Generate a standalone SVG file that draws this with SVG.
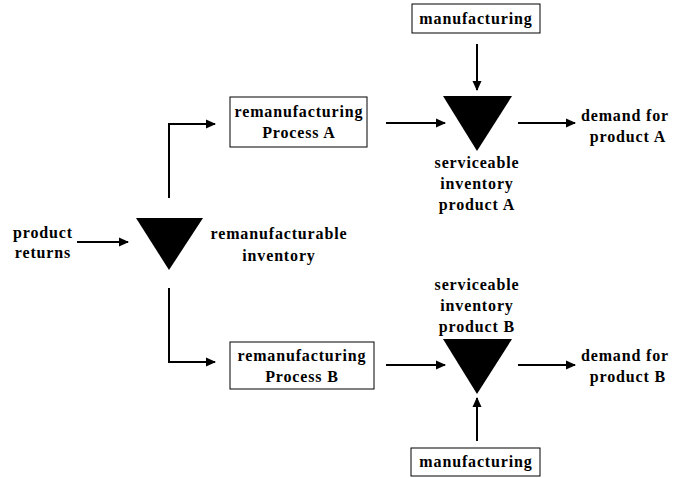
<svg xmlns="http://www.w3.org/2000/svg" width="674" height="478" viewBox="0 0 674 478">
<style>
text{font-family:"Liberation Serif","Times New Roman",serif;font-weight:bold;font-size:16px;letter-spacing:0.85px;fill:#000;text-anchor:middle}
.box{fill:#fff;stroke:#000;stroke-width:1}
.inv{fill:#000}
.c{fill:none;stroke:#000;stroke-width:2}
</style>
<defs>
<marker id="ah" markerWidth="10" markerHeight="10" refX="9" refY="5" orient="auto" markerUnits="userSpaceOnUse">
<path d="M0,0.5 L10,5 L0,9.5 Z" fill="#000"/>
</marker>
</defs>
<rect width="674" height="478" fill="#fff"/>
<g id="connectors">
<path class="c" d="M169,198 V124 H215" marker-end="url(#ah)"/>
<path class="c" d="M169,288 V362 H215" marker-end="url(#ah)"/>
<path class="c" d="M77,242 H128" marker-end="url(#ah)"/>
<path class="c" d="M386,123 H445" marker-end="url(#ah)"/>
<path class="c" d="M518,123 H575" marker-end="url(#ah)"/>
<path class="c" d="M386,365 H445" marker-end="url(#ah)"/>
<path class="c" d="M518,365 H575" marker-end="url(#ah)"/>
<path class="c" d="M477,44 V90" marker-end="url(#ah)"/>
<path class="c" d="M477,441 V398" marker-end="url(#ah)"/>
</g>
<g id="product-returns"><text x="43" y="238">product</text><text x="43" y="258">returns</text></g>
<g id="remanufacturable-inventory">
<polygon class="inv" points="136,218 203,218 169,270"/>
<text x="279" y="239">remanufacturable</text><text x="279" y="261">inventory</text>
</g>
<g id="process-a"><rect class="box" x="230" y="97" width="137" height="50"/><text x="299" y="117">remanufacturing</text><text x="299" y="138">Process A</text></g>
<g id="process-b"><rect class="box" x="230" y="342" width="144" height="47"/><text x="302" y="361">remanufacturing</text><text x="302" y="382">Process B</text></g>
<g id="manufacturing-a"><rect class="box" x="412" y="4" width="128" height="29"/><text x="476" y="24">manufacturing</text></g>
<g id="manufacturing-b"><rect class="box" x="411" y="448" width="129" height="28"/><text x="476" y="467">manufacturing</text></g>
<g id="serviceable-a">
<polygon class="inv" points="443,96 512,96 477,151"/>
<text x="477" y="168">serviceable</text><text x="477" y="189">inventory</text><text x="477" y="210">product A</text>
</g>
<g id="serviceable-b">
<polygon class="inv" points="443,339 512,339 477,394"/>
<text x="477" y="290">serviceable</text><text x="477" y="311">inventory</text><text x="477" y="332">product B</text>
</g>
<g id="demand-a"><text x="625" y="121">demand for</text><text x="628" y="142">product A</text></g>
<g id="demand-b"><text x="625" y="361">demand for</text><text x="628" y="382">product B</text></g>
</svg>
